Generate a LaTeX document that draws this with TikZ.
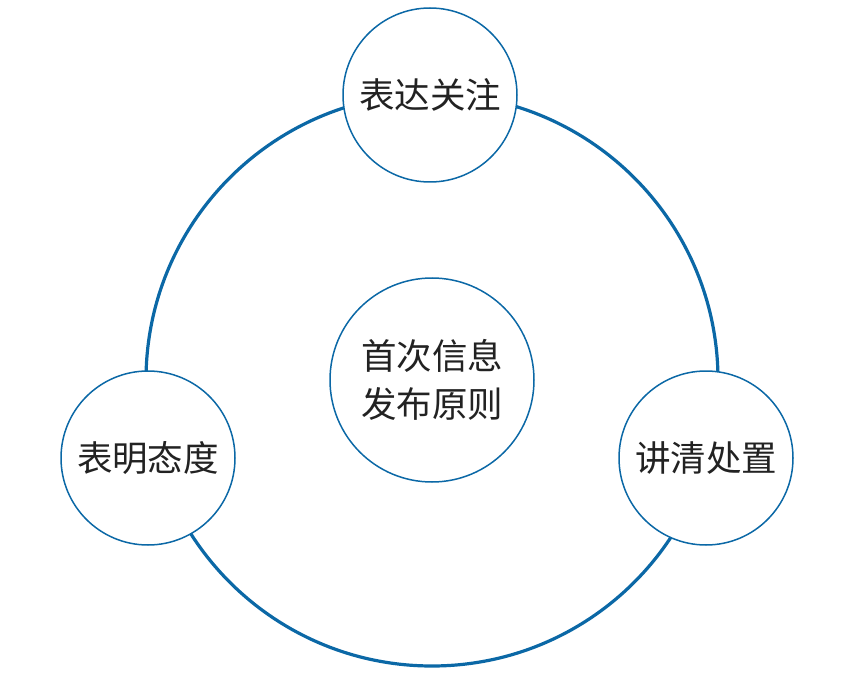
\documentclass[tikz,border=0pt]{standalone}
\usepackage{fontspec}
\newfontfamily\cjk{Noto Sans CJK SC}
\definecolor{ringblue}{HTML}{0B68A6}
\definecolor{txt}{HTML}{222222}
\begin{document}
\begin{tikzpicture}[x=1pt,y=-1pt,
  smallc/.style={circle,draw=ringblue,line width=1.5pt,fill=white,minimum size=174pt,inner sep=0pt,
    font=\cjk\fontsize{35.5}{48}\selectfont,text=txt,align=center},
  bigring/.style={draw=ringblue,line width=3.2pt}]
\useasboundingbox (0,0) rectangle (855,682);
\coordinate (o) at (432,380);
\draw[bigring] (o) circle (286);
\node[smallc] (top) at (430,95) {表达关注};
\node[smallc] (left) at (148,458) {表明态度};
\node[smallc] (right) at (706,458) {讲清处置};
\node[smallc,minimum size=204pt] (center) at (432,380) {首次信息\\发布原则};
\end{tikzpicture}
\end{document}
